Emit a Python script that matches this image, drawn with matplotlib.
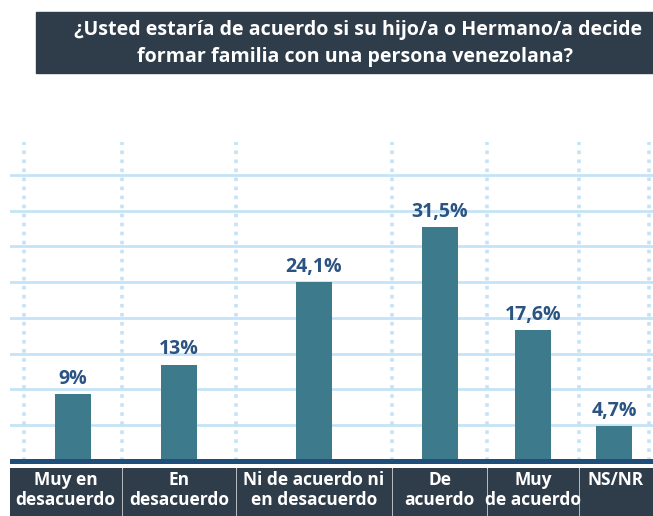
import numpy as np
import matplotlib.pyplot as plt
from matplotlib.patches import Rectangle

# data
categories = ["Muy en\ndesacuerdo", "En\ndesacuerdo", "Ni de acuerdo ni\nen desacuerdo",
              "De\nacuerdo", "Muy\nde acuerdo", "NS/NR"]
values = [9, 13, 24.1, 31.5, 17.6, 4.7]
value_labels = ["9%", "13%", "24,1%", "31,5%", "17,6%", "4,7%"]
title_lines = ["¿Usted estaría de acuerdo si su hijo/a o Hermano/a decide",
               "formar familia con una persona venezolana?"]

# layout (pixels of the 653x516 canvas)
W, H = 653, 516
COL_EDGES = [24, 122, 236, 392, 487, 579, 649]
AX_LEFT, AX_RIGHT, AX_TOP, AX_BOTTOM = 10, 653, 142, 461
BAR_W = 36
Y_MAX = 43.0
GRID_STEP = 4.82

BAR_COLOR = "#3d7a8c"
BASE_COLOR = "#1f4e7a"
GRID_COLOR = "#c4e3f7"
BOX_COLOR = "#2f3c4a"
LABEL_COLOR = "#2b5482"
FONT = ["Open Sans", "DejaVu Sans"]

plt.rcParams['font.family'] = FONT

fig = plt.figure(figsize=(W / 100, H / 100), dpi=100)


def px_rect(x0, y0, x1, y1):
    # pixel box (top-left origin) -> figure fraction
    return [x0 / W, 1 - y1 / H, (x1 - x0) / W, (y1 - y0) / H]


# title box
fig.patches.append(Rectangle((36 / W, 1 - 73 / H), 1 - 36 / W, 61 / H,
                             transform=fig.transFigure, color=BOX_COLOR, zorder=0))
for line, (cx, cy) in zip(title_lines, [(358, 30), (355, 57)]):
    fig.text(cx / W, 1 - cy / H, line, ha="center", va="center", color="white",
             fontsize=14.1, fontweight="bold")

# main axes
ax = fig.add_axes(px_rect(AX_LEFT, AX_TOP, AX_RIGHT, AX_BOTTOM))
ax.set_xlim(AX_LEFT, AX_RIGHT)
ax.set_ylim(0, Y_MAX)
for s in ax.spines.values():
    s.set_visible(False)
ax.set_xticks([])
ax.set_yticks([])

for k in range(1, 9):
    ax.axhline(k * GRID_STEP, color=GRID_COLOR, lw=2, zorder=1)
for e in COL_EDGES:
    ax.axvline(e, color=GRID_COLOR, lw=2.6, ls=(0, (1.0, 1.5)), zorder=1)

centers = [(COL_EDGES[i] + COL_EDGES[i + 1]) / 2 for i in range(len(values))]
bars = ax.bar(centers, values, width=BAR_W, color=BAR_COLOR, zorder=2)
for b, lab in zip(bars, value_labels):
    ax.annotate(lab, (b.get_x() + b.get_width() / 2, b.get_height()),
                xytext=(0, 4), textcoords="offset points", ha="center", va="bottom",
                color=LABEL_COLOR, fontsize=14, fontweight="bold")

# baseline
base = fig.add_axes(px_rect(AX_LEFT, 459, AX_RIGHT, 464))
base.set_axis_off()
base.add_patch(Rectangle((0, 0), 1, 1, transform=base.transAxes, color=BASE_COLOR))

# category boxes
lab_ax = fig.add_axes(px_rect(AX_LEFT, 468, AX_RIGHT, H))
lab_ax.set_xlim(AX_LEFT, AX_RIGHT)
lab_ax.set_ylim(0, 1)
lab_ax.set_axis_off()
box_edges = [AX_LEFT] + COL_EDGES[1:-1] + [AX_RIGHT]
for i, cat in enumerate(categories):
    x0 = box_edges[i] + (1 if i > 0 else 0)
    x1 = box_edges[i + 1] - 1
    lab_ax.add_patch(Rectangle((x0, 0), x1 - x0, 1, color=BOX_COLOR))
    lab_ax.text((x0 + x1) / 2, 0.93, cat, ha="center", va="top", color="white",
                fontsize=12.5, fontweight="bold", linespacing=1.1)

fig.savefig("out.png", dpi=100)
